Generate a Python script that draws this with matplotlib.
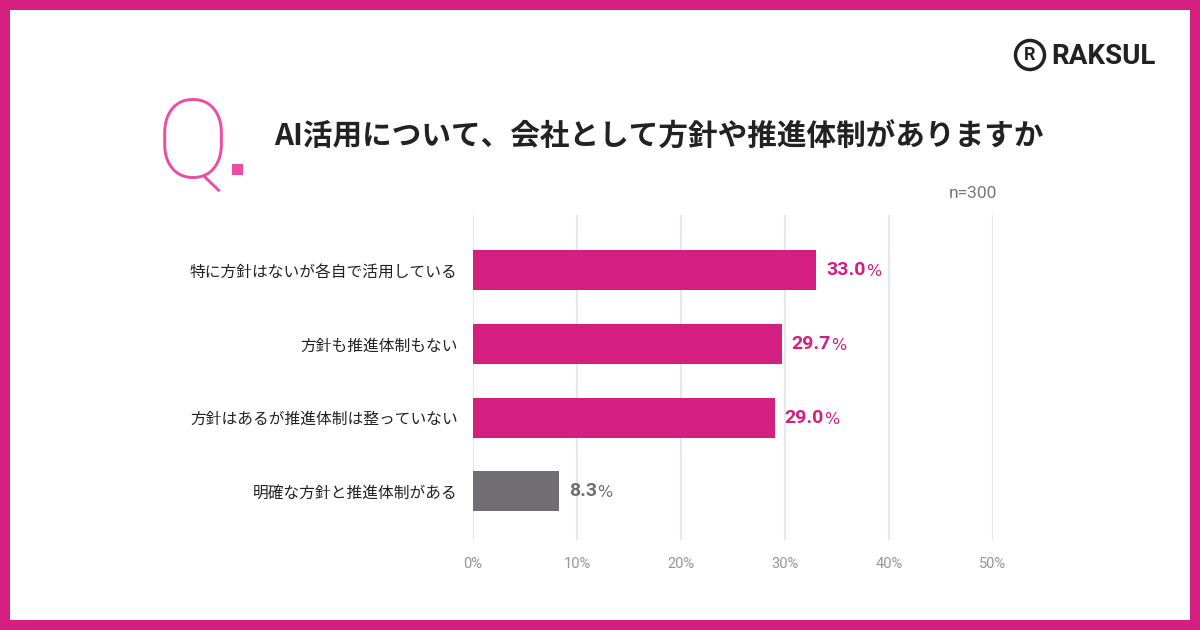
import matplotlib.pyplot as plt
from matplotlib.patches import Rectangle, Ellipse

plt.rcParams['font.family'] = ['Noto Sans CJK JP', 'DejaVu Sans']

# データ
categories = ['特に方針はないが各自で活用している', '方針も推進体制もない',
              '方針はあるが推進体制は整っていない', '明確な方針と推進体制がある']
values = [33.0, 29.7, 29.0, 8.3]
bar_colors = ['#D41F80', '#D41F80', '#D41F80', '#706E73']
ticks = [0, 10, 20, 30, 40, 50]
tick_labels = ['0%', '10%', '20%', '30%', '40%', '50%']

fig = plt.figure(figsize=(12, 6.3), dpi=100)
fig.patch.set_facecolor('#D41F80')
# 白い内側
fig.patches.append(Rectangle((10 / 1200, 10 / 630), 1180 / 1200, 610 / 630,
                             transform=fig.transFigure, facecolor='white',
                             edgecolor='none', zorder=-5))

ax = fig.add_axes([473 / 1200, 1 - 540 / 630, 520 / 1200, 325 / 630], zorder=2)
ax.set_facecolor('none')
pos = list(range(len(categories)))
ax.barh(pos, values, height=0.54, color=bar_colors, zorder=3)
ax.set_xlim(0, 50)
ax.set_ylim(3.66, -0.75)
ax.set_xticks(ticks)
ax.set_xticklabels(tick_labels, family=['Roboto', 'DejaVu Sans'])
ax.set_yticks(pos)
ax.set_yticklabels(categories)
ax.tick_params(axis='x', length=0, pad=12, labelsize=10.5, labelcolor='#959599')
ax.tick_params(axis='y', length=0, pad=11, labelsize=11.3, labelcolor='#222222')
ax.grid(axis='x', color='#e6e6eb', linewidth=1.5, zorder=0)
ax.set_axisbelow(True)
for s in ax.spines.values():
    s.set_visible(False)

# 数値ラベル
for p, v, c in zip(pos, values, bar_colors):
    t = ax.annotate(f'{v:.1f}', xy=(v, p), xytext=(7, 0), textcoords='offset points',
                    va='center', ha='left', fontsize=14, fontweight='bold', color=c,
                    family=['Roboto', 'DejaVu Sans'])
    ax.annotate('%', xy=(1, 0), xycoords=t, xytext=(0.3, 0), textcoords='offset points',
                va='bottom', ha='left', fontsize=11.5, color=c,
                family=['DejaVu Sans'])

# タイトル
fig.text(156 / 1200, 1 - 178 / 630, 'Q', fontsize=80, color='#EE4BA5',
         family=['Roboto', 'DejaVu Sans'], fontweight='light', va='baseline')
fig.patches.append(Rectangle((232 / 1200, 1 - 175 / 630), 11 / 1200, 11 / 630,
                             transform=fig.transFigure, facecolor='#EE4BA5',
                             edgecolor='none'))
fig.text(274 / 1200, 1 - 137 / 630, 'AI活用について、会社として方針や推進体制がありますか',
         fontsize=21.3, fontweight='bold', color='#222222', va='center')
fig.text(997 / 1200, 1 - 193 / 630, 'n=300', fontsize=12.5, color='#77777b',
         ha='right', va='center', family=['Roboto', 'DejaVu Sans'])

# ロゴ
fig.patches.append(Ellipse((1030 / 1200, 1 - 55 / 630), 29 / 1200, 29 / 630,
                           transform=fig.transFigure, facecolor='none',
                           edgecolor='#222222', linewidth=2.5))
fig.text(1030 / 1200, 1 - 55 / 630, 'R', fontsize=13, fontweight='bold',
         color='#222222', ha='center', va='center', family=['Roboto', 'DejaVu Sans'])
fig.text(1051 / 1200, 1 - 56 / 630, 'RAKSUL', fontsize=20, fontweight='bold',
         color='#222222', ha='left', va='center', family=['Roboto', 'DejaVu Sans'])

fig.savefig('out.png', dpi=100, facecolor=fig.get_facecolor())
